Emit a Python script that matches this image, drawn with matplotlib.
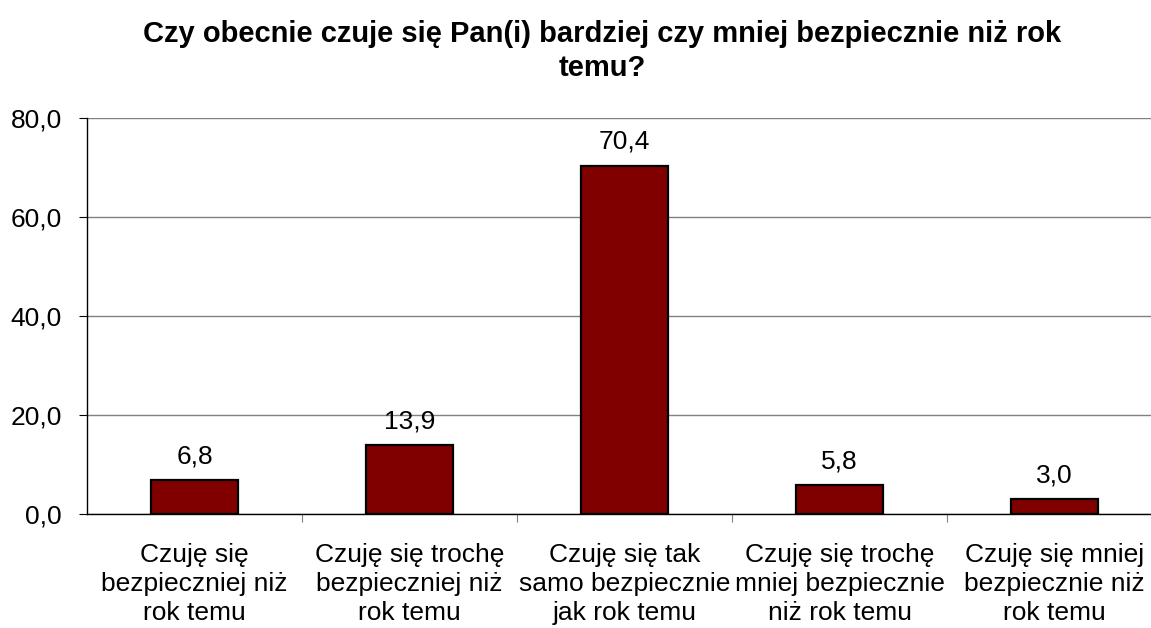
import matplotlib
matplotlib.use("Agg")
import matplotlib.pyplot as plt
import numpy as np

plt.rcParams['font.family'] = ['Liberation Sans', 'DejaVu Sans']

title = "Czy obecnie czuje się Pan(i) bardziej czy mniej bezpiecznie niż rok\ntemu?"
categories = [
    "Czuję się\nbezpieczniej niż\nrok temu",
    "Czuję się trochę\nbezpieczniej niż\nrok temu",
    "Czuję się tak\nsamo bezpiecznie\njak rok temu",
    "Czuję się trochę\nmniej bezpiecznie\nniż rok temu",
    "Czuję się mniej\nbezpiecznie niż\nrok temu",
]
values = [6.8, 13.9, 70.4, 5.8, 3.0]
yticks = [0, 20, 40, 60, 80]

W, H = 1151, 628
fig = plt.figure(figsize=(W / 100, H / 100), dpi=100)
ax = fig.add_axes([87 / W, (H - 514) / H, 1075 / W, 396 / H])

x = np.arange(len(values))
ax.bar(x, values, width=0.405, color='#800000', edgecolor='black', linewidth=1.6, zorder=3)

for xi, v in zip(x, values):
    ax.annotate(f"{v:.1f}".replace('.', ','), (xi, v), xytext=(0, 8.5),
                textcoords='offset points', ha='center', va='bottom', fontsize=19)

ax.set_xlim(-0.5, len(values) - 0.5)
ax.set_ylim(0, 80)
ax.set_yticks(yticks)
ax.set_yticklabels([f"{t:.1f}".replace('.', ',') for t in yticks], fontsize=19)
ax.yaxis.grid(True, color='#808080', linewidth=1.0, zorder=0)
ax.tick_params(axis='y', length=6, width=0.8, pad=12, direction='out')

ax.set_xticks(x)
ax.set_xticklabels(categories, fontsize=19, linespacing=1.25)
ax.tick_params(axis='x', which='major', length=0, pad=21)
ax.set_xticks(np.arange(0.5, len(values) - 0.5, 1.0), minor=True)
ax.tick_params(axis='x', which='minor', length=6, width=0.8, color='#808080', direction='out')

for s in ['top', 'right']:
    ax.spines[s].set_visible(False)
ax.spines['left'].set_linewidth(1.0)
ax.spines['bottom'].set_linewidth(1.0)

fig.text(602 / W, 1 - 20 / H, title, ha='center', va='top', fontsize=21,
         fontweight='bold', linespacing=1.25)

fig.savefig('out.png', dpi=100)
